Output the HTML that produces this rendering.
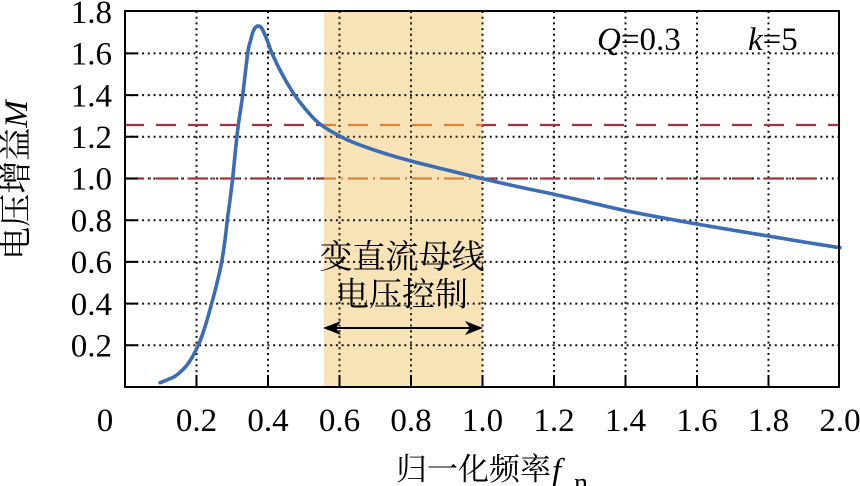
<!DOCTYPE html>
<html><head><meta charset="utf-8">
<style>
html,body{margin:0;padding:0;background:#fff;}
svg{display:block;}
svg text{font-family:"Liberation Serif","Times New Roman",Times,"Noto Serif CJK SC","DejaVu Serif",serif;fill:#000;}
svg text.cjk{font-family:"Liberation Serif","Times New Roman","Noto Serif CJK SC","Noto Serif CJK",serif;}
</style></head>
<body>
<svg width="860" height="486" viewBox="0 0 860 486" xmlns="http://www.w3.org/2000/svg" font-family="Liberation Serif, Times New Roman, Noto Serif CJK SC, serif">
<defs>
<clipPath id="shade"><rect x="324" y="11" width="158.5" height="376"/></clipPath>
</defs>
<rect x="0" y="0" width="860" height="486" fill="#fff"/>
<rect x="324" y="11" width="158.5" height="376" fill="#f7e3b6"/>
<!-- grid -->
<g stroke="#111" stroke-width="2" stroke-dasharray="2,3.7" fill="none">
<path d="M196.5 11V387M268 11V387M339.5 11V387M411 11V387M482.5 11V387M554 11V387M625.5 11V387M697 11V387M768.5 11V387"/>
<path d="M125 345.3H839M125 303.6H839M125 261.9H839M125 220.2H839M125 178.5H839M125 136.8H839M125 95.1H839M125 53.4H839"/>
</g>
<!-- dashed lines -->
<g fill="none" stroke-width="2.3">
<path d="M124 125H839" stroke="#a8303a" stroke-dasharray="20,12"/>
<path d="M124 178.5H816" stroke="#a8303a" stroke-dasharray="20,5,2,5"/>
<g clip-path="url(#shade)">
<rect x="324" y="120" width="158.5" height="64" fill="#f7e3b6"/>
<path d="M339.5 11V387M411 11V387M482.5 11V387" stroke="#3a2a1a" stroke-width="2" stroke-dasharray="2,3.7"/>
<path d="M125 136.8H839" stroke="#3a2a1a" stroke-width="2" stroke-dasharray="2,3.7"/>
<path d="M124 125H839" stroke="#da843c" stroke-dasharray="20,12"/>
<path d="M124 178.5H816" stroke="#da843c" stroke-dasharray="20,5,2,5"/>
</g>
</g>
<!-- curve -->
<polyline id="curve" fill="none" stroke="#3b6cb4" stroke-width="3.6" stroke-linejoin="round" stroke-linecap="round" points="160,382.7 168,379.5 176.7,375 188.3,363.3 198.3,345 205,326.7 211.7,303.3 217.3,281.7 221.7,261.7 225,240 227.3,220 230,200 232.7,178 235.5,150 238.3,125 242.7,95 247.7,53.3 250.7,40 253.3,31 256,27 258.3,26 261,27.3 264,32.7 268.3,43.3 272,53.3 281,72 293.3,93 306.7,110.5 320,124 340,136.2 360,145 385,153.5 411,161 447,170 482.7,178.7 518,186.7 554,194.3 590,202.5 625.7,210.7 661,217.5 696.7,224 732,230 768,236 804,242 840,247.7"/>
<!-- axes box -->
<rect x="125" y="11" width="714" height="376" fill="none" stroke="#000" stroke-width="2"/>
<g stroke="#000" stroke-width="2">
<path d="M125 345.3H138M125 303.6H138M125 261.9H138M125 220.2H138M125 178.5H138M125 136.8H138M125 95.1H138M125 53.4H138"/>
<path d="M196.5 387V375M268 387V375M339.5 387V375M411 387V375M482.5 387V375M554 387V375M625.5 387V375M697 387V375M768.5 387V375"/>
</g>
<!-- y tick labels -->
<g font-size="33" text-anchor="end">
<text x="112" y="356.5">0.2</text>
<text x="112" y="314.8">0.4</text>
<text x="112" y="273.1">0.6</text>
<text x="112" y="231.4">0.8</text>
<text x="112" y="189.7">1.0</text>
<text x="112" y="148">1.2</text>
<text x="112" y="106.3">1.4</text>
<text x="112" y="64.6">1.6</text>
<text x="112" y="22.9">1.8</text>
</g>
<!-- x tick labels -->
<g font-size="33" text-anchor="middle">
<text x="105" y="431">0</text>
<text x="196.5" y="431">0.2</text>
<text x="268" y="431">0.4</text>
<text x="339.5" y="431">0.6</text>
<text x="411" y="431">0.8</text>
<text x="482.5" y="431">1.0</text>
<text x="554" y="431">1.2</text>
<text x="625.5" y="431">1.4</text>
<text x="697" y="431">1.6</text>
<text x="768.5" y="431">1.8</text>
<text x="840" y="431">2.0</text>
</g>
<!-- parameters -->
<text x="597" y="50" font-size="33"><tspan font-style="italic">Q</tspan>=0.3</text>
<text x="748" y="50" font-size="33"><tspan font-style="italic">k</tspan>=5</text>
<!-- annotation -->
<text class="cjk" x="402" y="268" font-size="33" text-anchor="middle">变直流母线</text>
<text class="cjk" x="402" y="305.5" font-size="33" text-anchor="middle">电压控制</text>
<line x1="334" y1="328" x2="472" y2="328" stroke="#000" stroke-width="2"/>
<polygon points="323,328 341,321 336,328 341,335" fill="#000"/>
<polygon points="483,328 465,321 470,328 465,335" fill="#000"/>
<!-- axis titles -->
<text class="cjk" transform="translate(27,180) rotate(-90)" font-size="33" text-anchor="middle">电压增益<tspan font-style="italic">M</tspan></text>
<text class="cjk" x="396" y="480" font-size="31">归一化频率</text>
<text x="552" y="481" font-size="33" font-style="italic">f</text>
<text x="574" y="492" font-size="28">n</text>
</svg>
<script>
(function(){
  var el=document.getElementById('curve');
  if(!el) return;
  var raw=el.getAttribute('points').trim().split(/\s+/).map(function(s){var a=s.split(',');return [parseFloat(a[0]),parseFloat(a[1])];});
  var out=[];
  for(var i=0;i<raw.length-1;i++){
    var p0=raw[Math.max(i-1,0)],p1=raw[i],p2=raw[i+1],p3=raw[Math.min(i+2,raw.length-1)];
    for(var t=0;t<1;t+=0.1){
      var t2=t*t,t3=t2*t;
      var x=0.5*((2*p1[0])+(-p0[0]+p2[0])*t+(2*p0[0]-5*p1[0]+4*p2[0]-p3[0])*t2+(-p0[0]+3*p1[0]-3*p2[0]+p3[0])*t3);
      var y=0.5*((2*p1[1])+(-p0[1]+p2[1])*t+(2*p0[1]-5*p1[1]+4*p2[1]-p3[1])*t2+(-p0[1]+3*p1[1]-3*p2[1]+p3[1])*t3);
      out.push(x.toFixed(2)+','+y.toFixed(2));
    }
  }
  var l=raw[raw.length-1];out.push(l[0]+','+l[1]);
  el.setAttribute('points',out.join(' '));
})();
</script>
</body></html>
